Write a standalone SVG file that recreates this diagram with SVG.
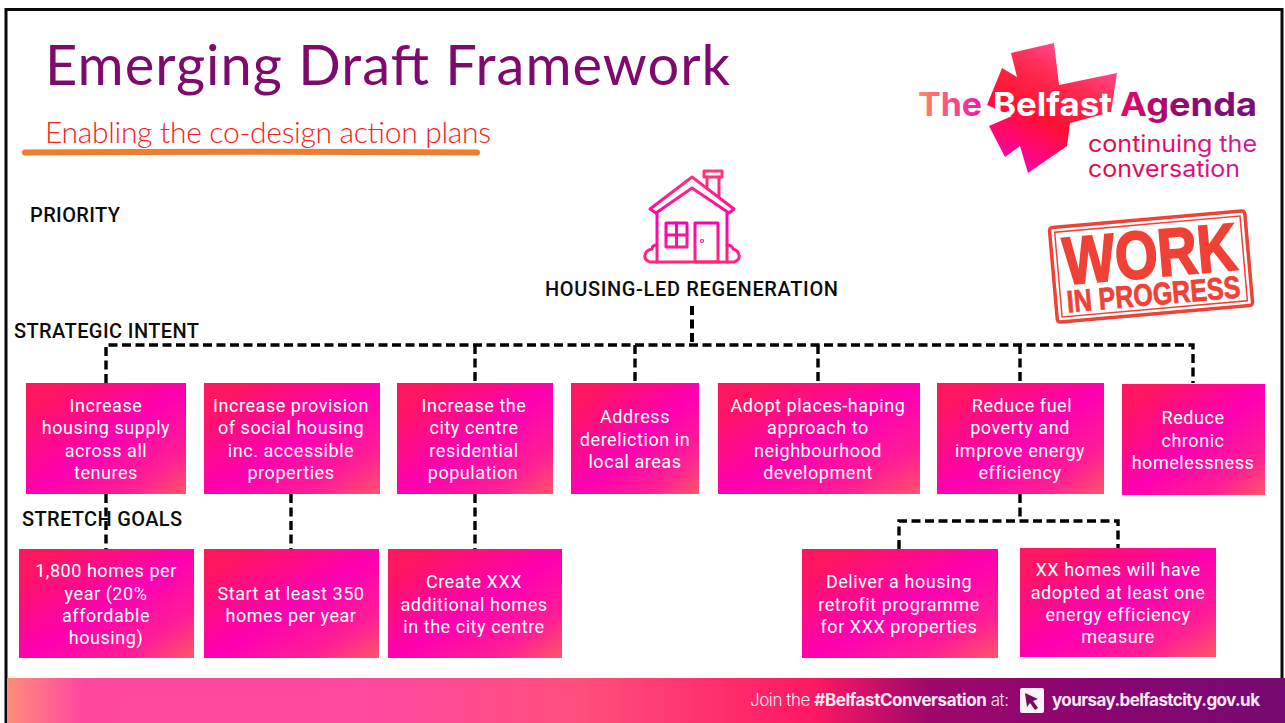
<svg xmlns="http://www.w3.org/2000/svg" width="1285" height="723" viewBox="0 0 1285 723">
<style>
.box{fill:url(#boxGrad)}
.t{font-family:"Roboto","Liberation Sans",sans-serif;font-size:18px;letter-spacing:.55px;fill:#fff;text-anchor:middle}
.lab{font-family:"Roboto","Liberation Sans",sans-serif;font-size:20px;font-weight:500;fill:#0c0c0c}
.con{fill:none;stroke:#000;stroke-width:3.400;stroke-dasharray:9 4.5}
.hand{font-family:"Lato","Open Sans",sans-serif}
.ico{fill:none;stroke:url(#houseGrad);stroke-width:3;stroke-linejoin:round;stroke-linecap:round}
.stamp{font-family:"Liberation Sans Narrow","Liberation Sans",sans-serif;font-weight:700;fill:#ef4136;stroke:#ef4136}
.logo{font-family:"Inter","Lato",sans-serif;font-weight:700;font-size:33px}
.logo2{font-family:"Inter","Lato",sans-serif;font-weight:400;font-size:23px}
.ban{font-family:"Inter","Lato",sans-serif;font-size:17px;fill:#fbe6f2}
</style>
<defs>
<linearGradient id="boxGrad" x1="0" y1="0" x2="1" y2="1">
<stop offset="0" stop-color="#ff1660"/><stop offset=".12" stop-color="#ff1660"/><stop offset=".52" stop-color="#ff00b2"/><stop offset=".8" stop-color="#ff1f94"/><stop offset="1" stop-color="#ff5568"/>
</linearGradient>
<linearGradient id="houseGrad" gradientUnits="userSpaceOnUse" x1="692" y1="170" x2="692" y2="264">
<stop offset="0" stop-color="#ff3a6e"/><stop offset=".55" stop-color="#ff00b0"/><stop offset="1" stop-color="#ff2a78"/>
</linearGradient>
<linearGradient id="banGrad" x1="0" y1="0" x2="1" y2="0">
<stop offset="0" stop-color="#ff8d7c"/><stop offset=".06" stop-color="#ff47a0"/><stop offset=".28" stop-color="#ff48a0"/><stop offset=".45" stop-color="#ff4f7c"/><stop offset=".63" stop-color="#ff1862"/><stop offset=".72" stop-color="#a0086c"/><stop offset=".85" stop-color="#8a0470"/><stop offset="1" stop-color="#760a72"/>
</linearGradient>
<linearGradient id="starGrad" x1=".1" y1=".95" x2=".55" y2="0">
<stop offset="0" stop-color="#ff00b4"/><stop offset=".45" stop-color="#ff1030"/><stop offset=".75" stop-color="#ff2a50"/><stop offset="1" stop-color="#ff4a90"/>
</linearGradient>
<linearGradient id="theGrad" gradientUnits="userSpaceOnUse" x1="918" y1="0" x2="985" y2="0">
<stop offset="0" stop-color="#ff8a60"/><stop offset="1" stop-color="#f010b0"/>
</linearGradient>
<linearGradient id="agGrad" gradientUnits="userSpaceOnUse" x1="1120" y1="0" x2="1257" y2="0">
<stop offset="0" stop-color="#e8086a"/><stop offset=".45" stop-color="#900a70"/><stop offset="1" stop-color="#7a0f78"/>
</linearGradient>
<linearGradient id="contGrad" gradientUnits="userSpaceOnUse" x1="1088" y1="0" x2="1257" y2="0">
<stop offset="0" stop-color="#e00a3c"/><stop offset=".5" stop-color="#e60a70"/><stop offset="1" stop-color="#c81aa0"/>
</linearGradient>
</defs>
<rect width="1285" height="723" fill="#fff"/>
<rect id="frame" x="6" y="9.500" width="1276" height="720" fill="none" stroke="#0a0a0a" stroke-width="3"/>

<g id="title">
<text class="hand" x="45" y="85" font-size="56" font-weight="400" fill="#7d0a6c" textLength="685" lengthAdjust="spacing">Emerging Draft Framework</text>
<text class="hand" x="45" y="143" font-size="30" font-weight="300" fill="#fb2020" textLength="446" lengthAdjust="spacing">Enabling the co-design action plans</text>
<path d="M25 152.500 Q250 151 477 152.500" fill="none" stroke="#ef7d2d" stroke-width="6" stroke-linecap="round"/>
</g>

<g id="logo">
<polygon points="1011,53 1054,43 1059,85 1117,73 1111,112 1070,123 1067,146 1028,173 1020,146 1005,157 989,126 1012,116 987,105 1002,68 1017,77" fill="url(#starGrad)"/>
<text class="logo" x="918" y="116" fill="url(#theGrad)" textLength="64" lengthAdjust="spacingAndGlyphs">The</text>
<text class="logo" x="993" y="116" fill="#fff" textLength="119" lengthAdjust="spacingAndGlyphs">Belfast</text>
<text class="logo" x="1120" y="116" fill="url(#agGrad)" textLength="137" lengthAdjust="spacingAndGlyphs">Agenda</text>
<text class="logo2" x="1088" y="152" fill="url(#contGrad)" textLength="169" lengthAdjust="spacingAndGlyphs">continuing the</text>
<text class="logo2" x="1088" y="177" fill="url(#contGrad)" textLength="152" lengthAdjust="spacingAndGlyphs">conversation</text>
</g>

<g id="stamp" transform="rotate(-5 1151 266)">
<rect x="1053" y="219" width="196" height="95" rx="3" fill="none" stroke="#ef4136" stroke-width="3.500"/>
<rect x="1058" y="224" width="186" height="85" fill="none" stroke="#ef4136" stroke-width="1.500"/>
<text class="stamp" x="1064" y="277" font-size="67" stroke-width="2" textLength="174" lengthAdjust="spacingAndGlyphs">WORK</text>
<text class="stamp" x="1064" y="305" font-size="31" stroke-width=".8" textLength="174" lengthAdjust="spacingAndGlyphs">IN PROGRESS</text>
</g>

<g id="house" class="ico">
<path d="M650 209 L692 177 L734 209 L729 213 L692 188 L656 213 Z"/>
<rect x="704" y="171" width="18" height="6"/>
<path d="M707 177 V186 M719 177 V196"/>
<path d="M657 213 V262 M727 213 V262"/>
<path d="M650 262 H734 Q740 260 739 255 Q738 250 733 249 Q732 245 727 245 M657 245 Q652 245 652 249 Q646 250 645 255 Q644 260 650 262"/>
<rect x="666" y="223" width="21" height="24"/>
<path d="M676.500 223 V247 M666 235 H687"/>
<rect x="695" y="223" width="23" height="39"/>
<circle cx="702" cy="241" r=".6"/>
</g>

<g id="labels">
<text class="lab" x="30" y="222" textLength="90">PRIORITY</text>
<text class="lab" x="545" y="296" textLength="293">HOUSING-LED REGENERATION</text>
</g>

<g id="connectors">
<path class="con" d="M692 306 V345" style="stroke-width:4"/>
<path class="con" d="M106 383 V345 H1193 V383"/>
<path class="con" d="M475 345 V383"/>
<path class="con" d="M635 345 V383"/>
<path class="con" d="M818 345 V383"/>
<path class="con" d="M1020 345 V383"/>
<path class="con" d="M106 494 V549"/>
<path class="con" d="M291 494 V549"/>
<path class="con" d="M475 494 V549"/>
<path class="con" d="M1020 494 V521"/>
<path class="con" d="M899 549 V521 H1118 V548"/>
</g>

<text class="lab" x="14" y="338" textLength="185">STRATEGIC INTENT</text>
<text class="lab" x="22" y="526" textLength="160">STRETCH GOALS</text>

<g id="n1"><rect class="box" x="26" y="383" width="160" height="111"/><text class="t"><tspan x="106" y="412">Increase</tspan><tspan x="106" y="434">housing supply</tspan><tspan x="106" y="457">across all</tspan><tspan x="106" y="479">tenures</tspan></text></g>
<g id="n2"><rect class="box" x="204" y="383" width="176" height="111"/><text class="t"><tspan x="291" y="412">Increase provision</tspan><tspan x="291" y="434">of social housing</tspan><tspan x="291" y="457">inc. accessible</tspan><tspan x="291" y="479">properties</tspan></text></g>
<g id="n3"><rect class="box" x="397" y="383" width="156" height="111"/><text class="t"><tspan x="474" y="412">Increase the</tspan><tspan x="474" y="434">city centre</tspan><tspan x="474" y="457">residential</tspan><tspan x="473" y="479">population</tspan></text></g>
<g id="n4"><rect class="box" x="571" y="383" width="128" height="111"/><text class="t"><tspan x="635" y="423">Address</tspan><tspan x="635" y="446">dereliction in</tspan><tspan x="635" y="468">local areas</tspan></text></g>
<g id="n5"><rect class="box" x="718" y="383" width="202" height="111"/><text class="t"><tspan x="818" y="412">Adopt places-haping</tspan><tspan x="818" y="434">approach to</tspan><tspan x="818" y="457">neighbourhood</tspan><tspan x="818" y="479">development</tspan></text></g>
<g id="n6"><rect class="box" x="937" y="383" width="167" height="111"/><text class="t"><tspan x="1022" y="412">Reduce fuel</tspan><tspan x="1020" y="434">poverty and</tspan><tspan x="1020" y="457">improve energy</tspan><tspan x="1020" y="479">efficiency</tspan></text></g>
<g id="n7"><rect class="box" x="1122" y="384" width="143" height="111"/><text class="t"><tspan x="1193" y="424">Reduce</tspan><tspan x="1193" y="447">chronic</tspan><tspan x="1193" y="469">homelessness</tspan></text></g>

<g id="g1"><rect class="box" x="19" y="549" width="175" height="109"/><text class="t"><tspan x="106" y="577">1,800 homes per</tspan><tspan x="106" y="600">year (20%</tspan><tspan x="106" y="622">affordable</tspan><tspan x="106" y="644">housing)</tspan></text></g>
<g id="g2"><rect class="box" x="204" y="549" width="175" height="109"/><text class="t"><tspan x="291" y="600">Start at least 350</tspan><tspan x="291" y="622">homes per year</tspan></text></g>
<g id="g3"><rect class="box" x="388" y="549" width="174" height="109"/><text class="t"><tspan x="474" y="588">Create XXX</tspan><tspan x="474" y="611">additional homes</tspan><tspan x="474" y="633">in the city centre</tspan></text></g>
<g id="g4"><rect class="box" x="802" y="549" width="196" height="109"/><text class="t"><tspan x="899" y="588">Deliver a housing</tspan><tspan x="899" y="611">retrofit programme</tspan><tspan x="899" y="633">for XXX properties</tspan></text></g>
<g id="g5"><rect class="box" x="1020" y="548" width="196" height="109"/><text class="t"><tspan x="1118" y="576">XX homes will have</tspan><tspan x="1118" y="599">adopted at least one</tspan><tspan x="1118" y="621">energy efficiency</tspan><tspan x="1118" y="643">measure</tspan></text></g>

<g id="banner">
<rect x="7" y="678" width="1278" height="45" fill="url(#banGrad)"/>
<text class="ban" x="750" y="706" textLength="259"><tspan font-weight="300">Join the </tspan><tspan font-weight="700">#BelfastConversation</tspan><tspan font-weight="300"> at:</tspan></text>
<rect x="1020" y="688" width="24" height="25" rx="2" fill="#fbf3f8"/>
<path d="M1025 693 L1038 699 L1033 701 L1038 708 L1035 710 L1030 703 L1027 707 Z" fill="#7a0a5e"/>
<text class="ban" x="1052" y="706" font-weight="700" textLength="208">yoursay.belfastcity.gov.uk</text>
</g>
</svg>
